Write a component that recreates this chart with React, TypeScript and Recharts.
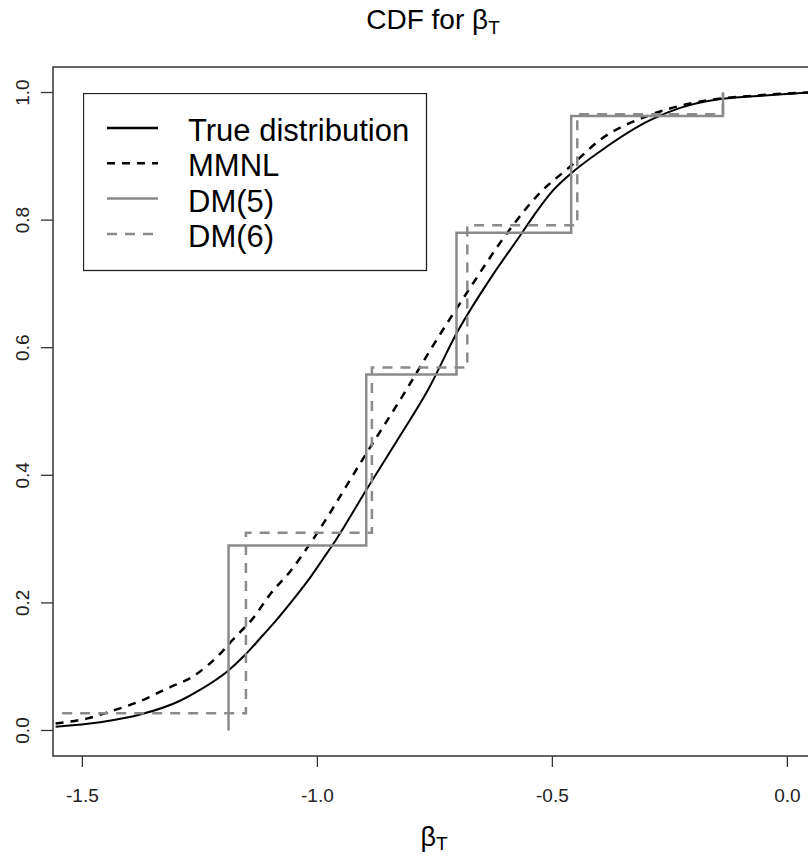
import { LineChart, Line, XAxis, YAxis, Legend, ReferenceArea } from 'recharts';

// axis ticks
const xTicks = [-1.5, -1.0, -0.5, 0.0];
const yTicks = [0, 0.2, 0.4, 0.6, 0.8, 1.0];

// true distribution
const trueX = [-1.557, -1.462, -1.377, -1.291, -1.249, -1.191, -1.153, -1.121, -1.085, -1.057, -1.021, -0.987, -0.962, -0.896, -0.830, -0.766, -0.702, -0.626, -0.574, -0.532, -0.504, -0.462, -0.398, -0.291, -0.228, -0.149, -0.072, 0.045];
const trueY = [0.006, 0.013, 0.025, 0.047, 0.064, 0.093, 0.119, 0.145, 0.175, 0.200, 0.234, 0.270, 0.297, 0.377, 0.455, 0.532, 0.625, 0.715, 0.770, 0.815, 0.842, 0.872, 0.908, 0.957, 0.976, 0.989, 0.994, 1.0];

// MMNL estimate
const mmnlX = [-1.557, -1.489, -1.440, -1.377, -1.319, -1.264, -1.206, -1.179, -1.138, -1.100, -1.057, -1.019, -0.896, -0.809, -0.760, -0.674, -0.596, -0.526, -0.462, -0.398, -0.291, -0.185, -0.072, 0.045];
const mmnlY = [0.011, 0.019, 0.030, 0.046, 0.066, 0.085, 0.121, 0.143, 0.175, 0.214, 0.250, 0.289, 0.434, 0.536, 0.596, 0.695, 0.780, 0.843, 0.884, 0.926, 0.965, 0.986, 0.995, 1.0];

// discrete mixtures (step functions)
const dm5X = [-1.189, -1.189, -0.896, -0.704, -0.460, -0.137];
const dm5Y = [0, 0.29, 0.558, 0.78, 0.963, 1.0];
const dm6X = [-1.543, -1.152, -0.884, -0.681, -0.447, -0.137];
const dm6Y = [0.027, 0.31, 0.569, 0.792, 0.966, 1.0];

const seriesNames = ['True distribution', 'MMNL', 'DM(5)', 'DM(6)'];

const toPoints = (xs: number[], ys: number[]) => xs.map((x, i) => ({ x, y: ys[i] }));

const FONT = '"Liberation Sans", Arial, sans-serif';
const GRAY = '#8a8a8a';

const legendStyles = [
  { stroke: '#000', dash: undefined, width: 2.5 },
  { stroke: '#000', dash: '8 7', width: 2.5 },
  { stroke: GRAY, dash: undefined, width: 2.5 },
  { stroke: GRAY, dash: '10 8', width: 2.5 },
];

function renderLegend() {
  return (
    <svg width={345} height={179} style={{ display: 'block' }}>
      <rect x={0.5} y={0.5} width={343} height={177} fill="#fff" stroke="#222" strokeWidth={1.3} />
      {seriesNames.map((name, i) => {
        const y = 35 + i * 35.3;
        const s = legendStyles[i];
        return (
          <g key={name}>
            <line x1={24} x2={75} y1={y} y2={y} stroke={s.stroke} strokeWidth={s.width} strokeDasharray={s.dash} />
            <text x={105} y={y + 13} fontSize={31} fontFamily={FONT} fill="#000">{name}</text>
          </g>
        );
      })}
    </svg>
  );
}

const XTick = (props: any) => (
  <text x={props.x} y={802} textAnchor="middle" fontSize={19} fontFamily={FONT} fill="#222">
    {props.payload.value.toFixed(1)}
  </text>
);

const YTick = (props: any) => (
  <text
    x={23}
    y={props.y}
    transform={`rotate(-90, 23, ${props.y})`}
    textAnchor="middle"
    dominantBaseline="central"
    fontSize={19}
    fontFamily={FONT}
    fill="#222"
  >
    {props.payload.value.toFixed(1)}
  </text>
);

export default function App() {
  return (
    <div style={{ position: 'fixed', left: 0, top: 0, width: 808, height: 857, overflow: 'hidden', background: '#fff' }}>
      <LineChart width={850} height={857} margin={{ top: 67, right: 10, bottom: 0, left: 0 }}>
        <XAxis
          type="number"
          dataKey="x"
          domain={[-1.5625, 0.112]}
          ticks={xTicks}
          allowDataOverflow
          height={101}
          axisLine={false}
          tickSize={11}
          tickLine={{ stroke: '#333', strokeWidth: 1.3 }}
          tick={<XTick />}
        />
        <YAxis
          type="number"
          dataKey="y"
          domain={[-0.04, 1.04]}
          ticks={yTicks}
          allowDataOverflow
          width={53}
          axisLine={false}
          tickSize={12}
          tickLine={{ stroke: '#333', strokeWidth: 1.3 }}
          tick={<YTick />}
        />
        <ReferenceArea x1={-1.5625} x2={0.112} y1={-0.04} y2={1.04} fill="none" stroke="#333" strokeWidth={1.5} />
        <Line data={toPoints(trueX, trueY)} dataKey="y" name={seriesNames[0]} type="monotone" stroke="#000" strokeWidth={2} dot={false} isAnimationActive={false} />
        <Line data={toPoints(mmnlX, mmnlY)} dataKey="y" name={seriesNames[1]} type="monotone" stroke="#000" strokeWidth={2.5} strokeDasharray="8 7" dot={false} isAnimationActive={false} />
        <Line data={toPoints(dm5X, dm5Y)} dataKey="y" name={seriesNames[2]} type="stepAfter" stroke={GRAY} strokeWidth={2.5} dot={false} isAnimationActive={false} />
        <Line data={toPoints(dm6X, dm6Y)} dataKey="y" name={seriesNames[3]} type="stepAfter" stroke={GRAY} strokeWidth={2.5} strokeDasharray="10 8" dot={false} isAnimationActive={false} />
        <Legend
          layout="vertical"
          align="center"
          verticalAlign="middle"
          content={renderLegend}
          wrapperStyle={{ position: 'absolute', left: 83, top: 93, width: 345, height: 179 }}
        />
      </LineChart>
      <svg width={808} height={857} style={{ position: 'absolute', left: 0, top: 0, pointerEvents: 'none' }}>
        <text x={433} y={29} textAnchor="middle" fontSize={28} fontFamily={FONT} fill="#000">
          CDF for β<tspan fontSize={19} dy={5}>T</tspan>
        </text>
        <text x={434} y={846} textAnchor="middle" fontSize={27} fontFamily={FONT} fill="#000">
          β<tspan fontSize={19} dy={4}>T</tspan>
        </text>
      </svg>
    </div>
  );
}
